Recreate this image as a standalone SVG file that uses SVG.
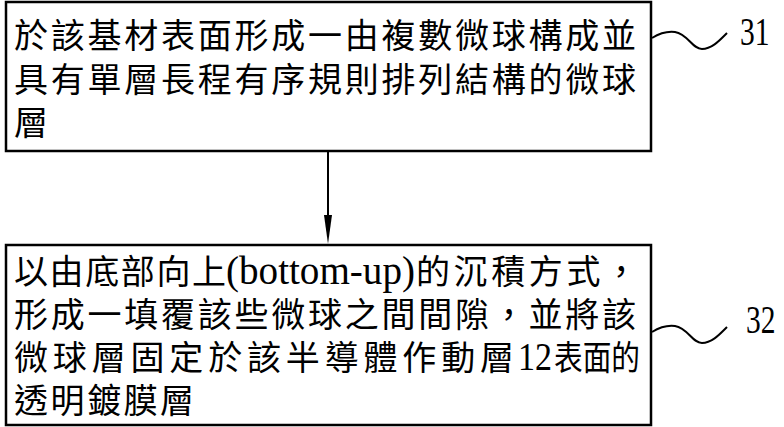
<svg xmlns="http://www.w3.org/2000/svg" width="784" height="427" viewBox="0 0 784 427">
<style>
.box{fill:#fff;stroke:#000;stroke-width:2.5}
.cjk{font-family:"Noto Sans CJK TC","Noto Sans CJK SC",sans-serif;font-size:34px;fill:#000}
.lat{font-family:"Liberation Serif",serif;fill:#000}
.conn{stroke:#000;stroke-width:2;fill:none}
.lbl{font-family:"Liberation Serif",serif;font-size:41px;fill:#000}
</style>
<rect width="784" height="427" fill="#fff"/>
<g id="step31">
<rect class="box" x="6" y="2" width="645" height="149"/>
<text class="cjk" x="14" y="48" textLength="622" lengthAdjust="spacing">於該基材表面形成一由複數微球構成並</text>
<text class="cjk" x="14" y="92" textLength="622" lengthAdjust="spacing">具有單層長程有序規則排列結構的微球</text>
<text class="cjk" x="14" y="135">層</text>
<path class="conn" d="M652,38 C660,33 667,31 675,32 C688,34 692,49 702,49 C712,49 720,40 727,33"/>
<text class="lbl" transform="translate(740,45) scale(0.72,1)">31</text>
</g>
<g id="step32">
<rect class="box" x="6" y="245" width="645" height="180"/>
<text class="cjk" x="14" y="284" textLength="212" lengthAdjust="spacing">以由底部向上</text>
<text class="lat" x="226" y="284" font-size="40" textLength="189" lengthAdjust="spacingAndGlyphs">(bottom-up)</text>
<text class="cjk" x="416" y="284" textLength="222" lengthAdjust="spacing">的沉積方式，</text>
<text class="cjk" x="14" y="327" textLength="622" lengthAdjust="spacing">形成一填覆該些微球之間間隙，並將該</text>
<text class="cjk" x="14" y="370" textLength="500" lengthAdjust="spacing">微球層固定於該半導體作動層</text>
<text class="lat" x="518" y="370" font-size="40" textLength="34" lengthAdjust="spacingAndGlyphs">12</text>
<text class="cjk" x="554" y="370" textLength="86" lengthAdjust="spacingAndGlyphs">表面的</text>
<text class="cjk" x="14" y="413" textLength="180" lengthAdjust="spacing">透明鍍膜層</text>
<path class="conn" d="M652,332 C660,327 667,325 675,326 C688,328 692,343 702,343 C712,343 720,334 727,327"/>
<text class="lbl" transform="translate(746,333) scale(0.72,1)">32</text>
</g>
<g id="connectors">
<line class="conn" x1="328" y1="151" x2="328" y2="222"/>
<polygon points="324,215 332,215 328,244" fill="#000"/>
</g>
</svg>
